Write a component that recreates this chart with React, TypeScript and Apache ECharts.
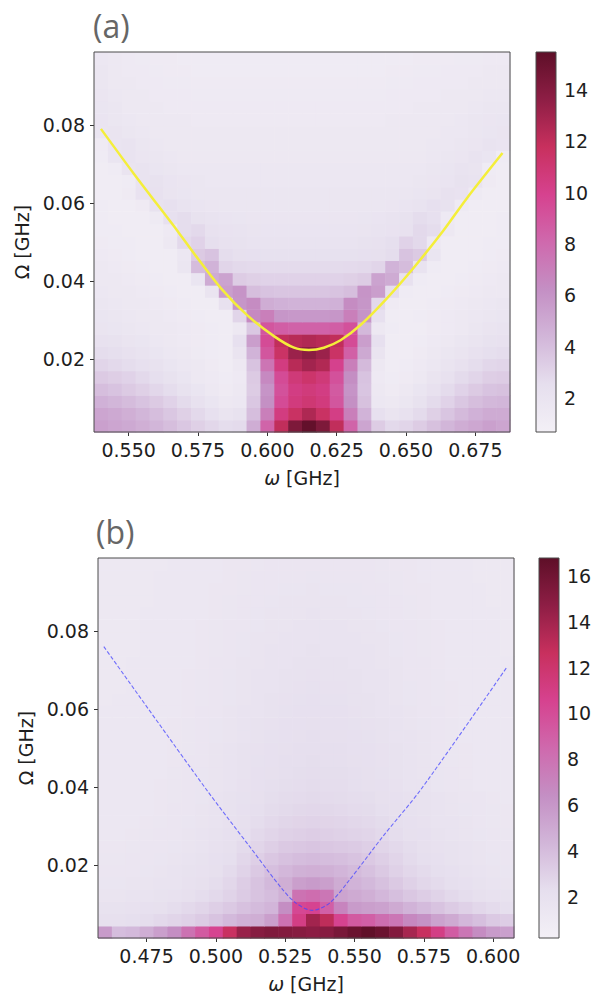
import React, { useEffect, useRef } from 'react';
import * as echarts from 'echarts';

// ---------- data ----------
const omegaA = [0.540, 0.545, 0.550, 0.555, 0.560, 0.565, 0.570, 0.575, 0.580, 0.585, 0.590, 0.595, 0.600, 0.605, 0.610, 0.615, 0.620, 0.625, 0.630, 0.635, 0.640, 0.645, 0.650, 0.655, 0.660, 0.665, 0.670, 0.675, 0.680, 0.685];
const omegaB = [0.460, 0.465, 0.470, 0.475, 0.480, 0.485, 0.490, 0.495, 0.500, 0.505, 0.510, 0.515, 0.520, 0.525, 0.530, 0.535, 0.540, 0.545, 0.550, 0.555, 0.560, 0.565, 0.570, 0.575, 0.580, 0.585, 0.590, 0.595, 0.600, 0.605];
const bigOmega = [0.0030, 0.0061, 0.0093, 0.0124, 0.0155, 0.0187, 0.0218, 0.0249, 0.0281, 0.0312, 0.0344, 0.0375, 0.0406, 0.0438, 0.0469, 0.0500, 0.0532, 0.0563, 0.0595, 0.0626, 0.0657, 0.0689, 0.0720, 0.0751, 0.0783, 0.0814, 0.0846, 0.0877, 0.0908, 0.0940, 0.0971];

// rows from lowest Omega (index 0) to highest
const zA = [
  [5.4,5.2,5.0,4.7,4.4,4.0,3.6,3.2,2.9,2.6,2.7,4.8,8.3,12.0,14.3,15.3,14.3,12.0,8.3,5.2,3.4,2.8,3.0,3.4,3.9,4.4,4.8,5.1,5.4,5.2],
  [5.2,5.0,4.7,4.4,4.0,3.6,3.2,2.8,2.4,2.0,2.2,4.0,7.0,10.5,11.6,12.6,11.6,10.3,7.0,4.5,2.4,2.0,2.3,2.7,3.2,3.7,4.2,4.6,4.9,4.9],
  [4.6,4.4,4.1,3.8,3.5,3.1,2.7,2.3,1.9,1.5,1.7,3.6,6.2,9.5,10.6,11.0,10.6,9.0,6.2,3.9,1.7,1.5,1.8,2.2,2.7,3.1,3.6,4.0,4.3,4.4],
  [4.0,3.8,3.5,3.2,2.9,2.6,2.2,1.9,1.6,1.3,1.5,3.4,6.0,9.2,10.4,10.7,10.4,8.8,6.0,3.7,1.5,1.3,1.5,1.9,2.3,2.7,3.1,3.5,3.8,3.9],
  [3.5,3.3,3.1,2.8,2.5,2.2,1.9,1.6,1.4,1.2,1.4,3.5,6.5,9.5,10.8,11.3,10.8,9.2,6.3,3.8,1.4,1.2,1.3,1.6,2.0,2.3,2.7,3.0,3.3,3.4],
  [3.0,2.8,2.6,2.4,2.2,1.9,1.7,1.5,1.3,1.15,1.5,3.8,7.5,10.5,12.3,13.0,12.5,10.0,7.0,4.2,1.5,1.15,1.2,1.4,1.7,2.0,2.3,2.6,2.9,3.0],
  [2.6,2.5,2.3,2.1,1.9,1.7,1.5,1.35,1.2,1.1,2.0,4.5,9.0,11.5,13.2,13.8,13.2,11.5,8.5,5.0,2.0,1.1,1.15,1.3,1.5,1.8,2.0,2.3,2.5,2.6],
  [2.3,2.2,2.0,1.9,1.7,1.55,1.4,1.3,1.2,1.1,2.4,5.5,9.5,12.0,12.3,12.5,12.3,12.0,9.5,5.5,2.4,1.15,1.1,1.2,1.4,1.6,1.8,2.0,2.2,2.3],
  [2.0,1.9,1.8,1.7,1.6,1.5,1.4,1.3,1.2,1.1,1.5,3.6,9.0,8.6,8.4,8.4,8.4,8.6,9.2,4.3,1.6,1.2,1.1,1.15,1.3,1.45,1.6,1.8,2.0,2.1],
  [1.9,1.8,1.7,1.6,1.5,1.4,1.3,1.2,1.15,1.1,3.0,6.5,7.0,5.9,5.8,5.8,5.8,5.9,7.0,6.0,2.4,1.1,1.15,1.2,1.3,1.4,1.5,1.65,1.8,1.9],
  [1.8,1.7,1.6,1.5,1.4,1.3,1.2,1.15,1.1,2.3,5.9,6.4,4.8,4.6,4.5,4.5,4.5,4.6,6.4,5.9,2.8,1.3,1.1,1.15,1.2,1.3,1.4,1.5,1.65,1.8],
  [1.7,1.6,1.5,1.4,1.3,1.2,1.15,1.1,2.0,5.5,6.0,4.0,3.8,3.7,3.7,3.7,3.7,3.8,4.0,6.0,5.5,2.6,1.2,1.1,1.15,1.2,1.3,1.4,1.5,1.6],
  [1.6,1.5,1.4,1.3,1.2,1.15,1.1,1.9,4.9,5.3,3.4,3.2,3.1,3.1,3.1,3.1,3.1,3.1,3.2,3.4,5.3,4.9,2.3,1.2,1.1,1.15,1.2,1.3,1.4,1.5],
  [1.5,1.4,1.3,1.2,1.15,1.1,1.8,4.1,4.5,3.0,2.8,2.75,2.7,2.7,2.7,2.7,2.7,2.7,2.75,2.8,3.0,4.5,4.1,2.1,1.2,1.1,1.15,1.2,1.3,1.4],
  [1.4,1.3,1.2,1.15,1.1,1.1,1.7,3.5,3.8,2.6,2.45,2.4,2.35,2.35,2.35,2.35,2.35,2.35,2.35,2.4,2.45,2.6,3.8,3.5,1.9,1.15,1.1,1.15,1.2,1.3],
  [1.3,1.25,1.2,1.15,1.1,1.5,2.8,3.1,2.5,2.3,2.2,2.1,2.1,2.1,2.1,2.1,2.1,2.1,2.1,2.2,2.3,2.5,3.1,2.8,1.6,1.15,1.1,1.15,1.2,1.25],
  [1.25,1.2,1.15,1.1,1.1,1.4,2.6,2.8,2.3,2.15,2.05,2.0,1.95,1.95,1.95,1.95,1.95,1.95,1.95,2.0,2.05,2.15,2.3,2.8,2.6,1.5,1.1,1.1,1.15,1.2],
  [1.2,1.15,1.1,1.1,1.35,2.4,2.6,2.2,2.05,1.95,1.9,1.85,1.85,1.85,1.85,1.85,1.85,1.85,1.85,1.9,1.95,2.05,2.2,2.6,2.4,1.4,1.1,1.1,1.15,1.2],
  [1.2,1.15,1.1,1.3,2.25,2.4,2.1,1.95,1.85,1.8,1.8,1.8,1.8,1.8,1.8,1.8,1.8,1.8,1.8,1.8,1.8,1.85,1.95,2.1,2.4,2.25,1.35,1.1,1.1,1.15],
  [1.15,1.1,1.3,2.15,2.3,2.0,1.9,1.8,1.75,1.75,1.75,1.75,1.75,1.75,1.75,1.75,1.75,1.75,1.75,1.75,1.75,1.75,1.8,1.9,2.0,2.3,2.15,1.35,1.1,1.1],
  [1.1,1.1,1.25,2.05,2.2,1.95,1.85,1.75,1.7,1.7,1.7,1.7,1.7,1.7,1.7,1.7,1.7,1.7,1.7,1.7,1.7,1.7,1.7,1.75,1.85,1.95,2.2,2.05,1.3,1.1],
  [1.1,1.25,2.0,2.1,1.9,1.8,1.7,1.65,1.65,1.65,1.65,1.65,1.65,1.65,1.65,1.65,1.65,1.65,1.65,1.65,1.65,1.65,1.65,1.7,1.8,1.9,2.1,2.0,1.25,1.1],
  [1.2,1.9,2.05,1.85,1.75,1.65,1.6,1.6,1.6,1.6,1.6,1.6,1.6,1.6,1.6,1.6,1.6,1.6,1.6,1.6,1.6,1.6,1.6,1.6,1.65,1.75,1.85,2.05,1.9,1.2],
  [1.3,1.95,2.05,1.75,1.65,1.6,1.55,1.55,1.55,1.55,1.55,1.55,1.55,1.55,1.55,1.55,1.55,1.55,1.55,1.55,1.55,1.55,1.6,1.6,1.65,1.7,1.75,1.85,2.05,1.95],
  [1.9,2.0,1.75,1.65,1.6,1.55,1.5,1.5,1.5,1.5,1.5,1.5,1.5,1.5,1.5,1.5,1.5,1.5,1.5,1.5,1.5,1.5,1.55,1.55,1.6,1.65,1.7,1.8,1.9,2.0],
  [1.95,1.8,1.65,1.6,1.55,1.5,1.5,1.45,1.45,1.45,1.45,1.45,1.45,1.45,1.45,1.45,1.45,1.45,1.45,1.45,1.45,1.5,1.5,1.55,1.55,1.6,1.65,1.75,1.85,1.9],
  [1.9,1.75,1.6,1.55,1.5,1.45,1.45,1.4,1.4,1.4,1.4,1.4,1.4,1.4,1.4,1.4,1.4,1.4,1.4,1.4,1.4,1.45,1.45,1.5,1.5,1.55,1.6,1.65,1.75,1.8],
  [1.85,1.65,1.55,1.5,1.45,1.4,1.4,1.35,1.35,1.35,1.35,1.35,1.35,1.35,1.35,1.35,1.35,1.35,1.35,1.35,1.35,1.4,1.4,1.45,1.45,1.5,1.55,1.6,1.65,1.7],
  [1.8,1.6,1.5,1.45,1.4,1.35,1.35,1.3,1.3,1.3,1.3,1.3,1.3,1.3,1.3,1.3,1.3,1.3,1.3,1.3,1.3,1.35,1.35,1.4,1.4,1.45,1.45,1.5,1.55,1.6],
  [1.75,1.55,1.45,1.4,1.35,1.3,1.3,1.25,1.25,1.25,1.25,1.25,1.25,1.25,1.25,1.25,1.25,1.25,1.25,1.25,1.25,1.3,1.3,1.35,1.35,1.4,1.4,1.45,1.5,1.55],
  [1.7,1.5,1.4,1.35,1.3,1.3,1.25,1.2,1.2,1.2,1.2,1.2,1.2,1.2,1.2,1.2,1.2,1.2,1.2,1.2,1.2,1.25,1.25,1.3,1.3,1.3,1.35,1.35,1.4,1.45],
];

const zB = [
  [5.8,4.0,4.2,4.8,5.6,6.5,8.0,9.3,10.5,12.5,14.3,15.0,15.3,15.2,15.0,14.8,15.0,15.6,16.2,16.7,16.2,15.2,13.8,12.6,11.0,9.2,7.8,6.6,5.8,5.5],
  [2.2,2.2,2.3,2.4,2.6,2.8,3.0,3.3,3.7,4.2,4.6,4.8,5.6,8.0,11.0,14.0,13.0,10.5,9.3,9.0,8.2,7.8,6.8,6.3,5.4,5.0,4.3,3.9,3.4,3.2],
  [1.9,1.9,2.0,2.1,2.2,2.4,2.6,2.8,3.1,3.4,3.8,4.1,4.4,6.5,10.3,10.5,9.0,7.0,5.8,5.6,5.4,5.0,4.5,4.1,3.7,3.3,3.0,2.7,2.5,2.3],
  [1.7,1.7,1.75,1.8,1.9,2.0,2.2,2.4,2.6,2.9,3.3,3.7,4.0,4.6,8.0,8.3,7.8,5.3,5.0,4.7,4.3,3.9,3.5,3.2,2.9,2.6,2.4,2.2,2.0,1.9],
  [1.6,1.6,1.65,1.7,1.75,1.85,2.0,2.2,2.4,2.7,3.2,3.7,4.2,4.8,5.6,5.8,5.6,4.9,4.5,4.2,3.8,3.4,3.0,2.7,2.5,2.3,2.1,1.9,1.8,1.7],
  [1.5,1.5,1.55,1.6,1.65,1.75,1.9,2.0,2.2,2.5,2.9,3.4,3.9,4.3,4.6,4.7,4.6,4.4,4.1,3.8,3.4,3.0,2.7,2.5,2.3,2.1,1.9,1.8,1.7,1.6],
  [1.45,1.45,1.5,1.55,1.6,1.7,1.8,1.9,2.1,2.3,2.7,3.1,3.5,3.8,4.0,4.1,4.0,3.9,3.7,3.4,3.1,2.8,2.5,2.3,2.1,1.95,1.8,1.7,1.6,1.55],
  [1.4,1.4,1.45,1.5,1.55,1.6,1.7,1.8,2.0,2.2,2.5,2.8,3.1,3.4,3.5,3.6,3.5,3.4,3.3,3.1,2.8,2.6,2.4,2.2,2.0,1.9,1.75,1.65,1.55,1.5],
  [1.35,1.35,1.4,1.45,1.5,1.55,1.65,1.75,1.9,2.1,2.3,2.6,2.8,3.0,3.1,3.2,3.1,3.0,2.9,2.8,2.6,2.4,2.2,2.1,1.9,1.8,1.7,1.6,1.5,1.45],
  [1.3,1.3,1.35,1.4,1.45,1.5,1.6,1.7,1.85,2.0,2.2,2.4,2.6,2.75,2.85,2.9,2.85,2.8,2.7,2.6,2.45,2.3,2.1,2.0,1.85,1.75,1.65,1.55,1.45,1.4],
  [1.3,1.3,1.3,1.35,1.4,1.5,1.55,1.65,1.8,1.95,2.1,2.3,2.45,2.55,2.65,2.7,2.65,2.6,2.5,2.45,2.3,2.2,2.05,1.95,1.8,1.7,1.6,1.5,1.45,1.4],
  [1.25,1.25,1.3,1.35,1.4,1.45,1.5,1.6,1.75,1.9,2.05,2.2,2.35,2.45,2.5,2.55,2.5,2.45,2.4,2.35,2.2,2.1,2.0,1.9,1.75,1.65,1.55,1.5,1.4,1.35],
  [1.25,1.25,1.3,1.35,1.4,1.45,1.5,1.6,1.7,1.85,2.0,2.15,2.25,2.35,2.4,2.45,2.4,2.4,2.3,2.2,2.1,2.0,1.85,1.75,1.6,1.5,1.45,1.35,1.3,1.3],
  [1.25,1.25,1.3,1.3,1.35,1.45,1.5,1.6,1.7,1.8,1.95,2.1,2.2,2.3,2.35,2.4,2.35,2.35,2.25,2.2,2.05,1.95,1.85,1.7,1.6,1.5,1.4,1.35,1.3,1.3],
  [1.25,1.25,1.3,1.3,1.35,1.4,1.5,1.55,1.65,1.8,1.9,2.05,2.15,2.25,2.3,2.35,2.3,2.3,2.2,2.15,2.0,1.9,1.8,1.7,1.55,1.45,1.4,1.35,1.3,1.3],
  [1.25,1.25,1.3,1.3,1.35,1.4,1.45,1.55,1.65,1.75,1.9,2.0,2.1,2.2,2.25,2.3,2.25,2.25,2.15,2.1,2.0,1.9,1.75,1.65,1.55,1.45,1.4,1.35,1.3,1.3],
  [1.25,1.25,1.25,1.3,1.35,1.4,1.45,1.5,1.6,1.7,1.85,1.95,2.05,2.15,2.2,2.25,2.2,2.2,2.1,2.05,1.95,1.85,1.75,1.65,1.55,1.45,1.35,1.3,1.3,1.25],
  [1.25,1.25,1.25,1.3,1.35,1.4,1.45,1.5,1.6,1.7,1.8,1.9,2.0,2.1,2.15,2.2,2.15,2.15,2.05,2.0,1.9,1.8,1.7,1.6,1.5,1.45,1.35,1.3,1.3,1.25],
  [1.25,1.25,1.25,1.3,1.3,1.35,1.4,1.5,1.55,1.65,1.75,1.85,1.95,2.05,2.1,2.15,2.1,2.1,2.0,1.95,1.85,1.75,1.65,1.55,1.5,1.4,1.35,1.3,1.3,1.25],
  [1.2,1.25,1.25,1.3,1.3,1.35,1.4,1.45,1.55,1.6,1.7,1.8,1.9,2.0,2.05,2.1,2.05,2.05,1.95,1.9,1.8,1.7,1.6,1.55,1.45,1.4,1.35,1.3,1.25,1.25],
  [1.2,1.2,1.25,1.25,1.3,1.35,1.4,1.45,1.5,1.6,1.7,1.8,1.85,1.95,2.0,2.05,2.0,2.0,1.9,1.85,1.75,1.7,1.6,1.5,1.45,1.4,1.3,1.3,1.25,1.25],
  [1.2,1.2,1.25,1.25,1.3,1.35,1.4,1.45,1.5,1.6,1.65,1.75,1.85,1.9,1.95,2.0,1.95,1.95,1.9,1.8,1.75,1.65,1.55,1.5,1.45,1.35,1.3,1.3,1.25,1.25],
  [1.2,1.2,1.25,1.25,1.3,1.3,1.35,1.4,1.5,1.55,1.65,1.7,1.8,1.85,1.9,1.95,1.9,1.9,1.85,1.8,1.7,1.65,1.55,1.5,1.4,1.35,1.3,1.3,1.25,1.25],
  [1.2,1.2,1.2,1.25,1.3,1.3,1.35,1.4,1.45,1.55,1.6,1.7,1.75,1.8,1.85,1.9,1.85,1.85,1.8,1.75,1.7,1.6,1.55,1.45,1.4,1.35,1.3,1.25,1.25,1.2],
  [1.2,1.2,1.2,1.25,1.25,1.3,1.35,1.4,1.45,1.5,1.6,1.65,1.7,1.75,1.8,1.85,1.8,1.8,1.75,1.7,1.65,1.6,1.5,1.45,1.4,1.35,1.3,1.25,1.25,1.2],
  [1.2,1.2,1.2,1.25,1.25,1.3,1.35,1.4,1.45,1.5,1.55,1.6,1.7,1.7,1.75,1.8,1.75,1.75,1.7,1.65,1.6,1.55,1.5,1.45,1.4,1.3,1.3,1.25,1.25,1.2],
  [1.2,1.2,1.2,1.25,1.25,1.3,1.3,1.35,1.4,1.45,1.5,1.6,1.65,1.7,1.7,1.75,1.7,1.7,1.65,1.6,1.55,1.5,1.45,1.4,1.35,1.3,1.3,1.25,1.25,1.2],
  [1.2,1.2,1.2,1.2,1.25,1.3,1.3,1.35,1.4,1.45,1.5,1.55,1.6,1.65,1.65,1.7,1.65,1.65,1.6,1.6,1.55,1.5,1.45,1.4,1.35,1.3,1.25,1.25,1.2,1.2],
  [1.2,1.2,1.2,1.2,1.25,1.25,1.3,1.35,1.4,1.4,1.45,1.5,1.55,1.6,1.6,1.65,1.6,1.6,1.6,1.55,1.5,1.45,1.4,1.4,1.35,1.3,1.25,1.25,1.2,1.2],
  [1.2,1.2,1.2,1.2,1.25,1.25,1.3,1.3,1.35,1.4,1.45,1.5,1.5,1.55,1.55,1.6,1.55,1.55,1.55,1.5,1.45,1.45,1.4,1.35,1.3,1.3,1.25,1.2,1.2,1.2],
  [1.2,1.2,1.2,1.2,1.2,1.25,1.3,1.3,1.35,1.4,1.4,1.45,1.5,1.5,1.55,1.55,1.55,1.5,1.5,1.5,1.45,1.4,1.4,1.35,1.3,1.3,1.25,1.2,1.2,1.2],
];

// resonance curves
const curveAx = [0.5400, 0.5522, 0.5678, 0.5737, 0.5833, 0.5929, 0.6025, 0.6096, 0.6150, 0.6204, 0.6264, 0.6336, 0.6432, 0.6527, 0.6635, 0.6719, 0.6848];
const curveAy = [0.0790, 0.0672, 0.0527, 0.0470, 0.0382, 0.0312, 0.0259, 0.0230, 0.0224, 0.0230, 0.0249, 0.0288, 0.0357, 0.0434, 0.0530, 0.0612, 0.0728];
const curveBx = [0.4596, 0.4965, 0.5121, 0.5241, 0.5290, 0.5347, 0.5409, 0.5482, 0.5602, 0.5740, 0.6047];
const curveBy = [0.0760, 0.0395, 0.0249, 0.0138, 0.0103, 0.0085, 0.0103, 0.0163, 0.0274, 0.0395, 0.0705];

// ticks and colour ranges
const xTicksA = [0.55, 0.575, 0.6, 0.625, 0.65, 0.675];
const xTicksB = [0.475, 0.5, 0.525, 0.55, 0.575, 0.6];
const yTicks = [0.02, 0.04, 0.06, 0.08];
const cbarTicksA = [2, 4, 6, 8, 10, 12, 14];
const cbarTicksB = [2, 4, 6, 8, 10, 12, 14, 16];
const cbarRangeA = [0.68, 15.48];
const cbarRangeB = [0.21, 16.78];
// PuRd-like colour ramp as it appears in the reference (slightly muted)
const ramp = ['#f3f0f6', '#e6dfee', '#d2b6d9', '#c48fc4', '#cf69ad', '#d6428f', '#c8305e', '#8e1e45', '#5e0f28'];

const FONT = 'DejaVu Sans';
const LABEL_COLOR = '#1e1e1e';

function heatData(xs: number[], ys: number[], z: number[][]) {
  const out: number[][] = [];
  for (let r = 0; r < ys.length; r++) {
    for (let c = 0; c < xs.length; c++) {
      out.push([xs[c], ys[r], z[r][c]]);
    }
  }
  return out;
}

function heatRender(dx: number, dy: number) {
  return (params: any, api: any) => {
    const x = api.value(0);
    const y = api.value(1);
    const p1 = api.coord([x - dx / 2, y + dy / 2]);
    const p2 = api.coord([x + dx / 2, y - dy / 2]);
    return {
      type: 'rect',
      shape: { x: p1[0], y: p1[1], width: p2[0] - p1[0] + 0.6, height: p2[1] - p1[1] + 0.6 },
      style: { fill: api.visual('color') },
    };
  };
}

const frameRender = (params: any) => {
  const cs = params.coordSys;
  return {
    type: 'rect',
    shape: { x: cs.x, y: cs.y, width: cs.width, height: cs.height },
    style: { fill: 'none', stroke: '#4a4a4a', lineWidth: 1 },
  };
};

const cbarRender = (params: any) => {
  const cs = params.coordSys;
  return {
    type: 'rect',
    shape: { x: cs.x, y: cs.y, width: cs.width, height: cs.height },
    style: {
      fill: new echarts.graphic.LinearGradient(0, 1, 0, 0, ramp.map((c, i) => ({ offset: i / (ramp.length - 1), color: c }))),
      stroke: '#4a4a4a',
      lineWidth: 1,
    },
  };
};

function mainXAxis(grid: number, min: number, max: number, ticks: number[]) {
  return {
    type: 'value', gridIndex: grid, min, max,
    axisLine: { show: false },
    splitLine: { show: false },
    axisTick: { show: true, length: 4, lineStyle: { color: '#333', width: 1 }, customValues: ticks },
    axisLabel: { customValues: ticks, formatter: (v: number) => v.toFixed(3), fontSize: 19, fontFamily: FONT, color: LABEL_COLOR, margin: 8 },
    name: '{i|ω} [GHz]',
    nameLocation: 'middle',
    nameGap: 36,
    nameTextStyle: { fontSize: 19, fontFamily: FONT, color: LABEL_COLOR, rich: { i: { fontStyle: 'italic', fontSize: 19, fontFamily: FONT, color: LABEL_COLOR } } },
  };
}

function mainYAxis(grid: number, min: number, max: number) {
  return {
    type: 'value', gridIndex: grid, min, max,
    axisLine: { show: false },
    splitLine: { show: false },
    axisTick: { show: true, length: 4, lineStyle: { color: '#333', width: 1 }, customValues: yTicks },
    axisLabel: { customValues: yTicks, formatter: (v: number) => v.toFixed(2), fontSize: 19, fontFamily: FONT, color: LABEL_COLOR, margin: 9 },
    name: 'Ω [GHz]',
    nameLocation: 'middle',
    nameGap: 60,
    nameRotate: 90,
    nameTextStyle: { fontSize: 19, fontFamily: FONT, color: LABEL_COLOR },
  };
}

function cbarYAxis(grid: number, range: number[], ticks: number[]) {
  return {
    type: 'value', gridIndex: grid, position: 'right', min: range[0], max: range[1],
    axisLine: { show: false },
    splitLine: { show: false },
    axisTick: { show: true, length: 4, lineStyle: { color: '#333', width: 1 }, customValues: ticks },
    axisLabel: { customValues: ticks, formatter: (v: number) => String(Math.round(v)), fontSize: 19, fontFamily: FONT, color: LABEL_COLOR, margin: 8 },
  };
}

export default function App() {
  const ref = useRef<HTMLDivElement>(null);
  useEffect(() => {
    if (!ref.current) return;
    const chart = echarts.init(ref.current, undefined, { renderer: 'svg' });
    const dxA = omegaA[1] - omegaA[0];
    const dxB = omegaB[1] - omegaB[0];
    const dy = (bigOmega[bigOmega.length - 1] - bigOmega[0]) / (bigOmega.length - 1);
    const yMin = bigOmega[0] - dy / 2;
    const yMax = bigOmega[bigOmega.length - 1] + dy / 2;
    const xMinA = omegaA[0] - dxA / 2, xMaxA = omegaA[omegaA.length - 1] + dxA / 2;
    const xMinB = omegaB[0] - dxB / 2, xMaxB = omegaB[omegaB.length - 1] + dxB / 2;

    const option: any = {
      animation: false,
      backgroundColor: '#ffffff',
      grid: [
        { left: 94, top: 52, width: 416, height: 380 },
        { left: 536, top: 52, width: 20, height: 380 },
        { left: 98, top: 558, width: 416, height: 380 },
        { left: 539, top: 558, width: 20, height: 380 },
      ],
      xAxis: [
        mainXAxis(0, xMinA, xMaxA, xTicksA),
        { type: 'value', gridIndex: 1, min: 0, max: 1, show: false },
        mainXAxis(2, xMinB, xMaxB, xTicksB),
        { type: 'value', gridIndex: 3, min: 0, max: 1, show: false },
      ],
      yAxis: [
        mainYAxis(0, yMin, yMax),
        cbarYAxis(1, cbarRangeA, cbarTicksA),
        mainYAxis(2, yMin, yMax),
        cbarYAxis(3, cbarRangeB, cbarTicksB),
      ],
      visualMap: [
        { type: 'continuous', show: false, min: cbarRangeA[0], max: cbarRangeA[1], dimension: 2, seriesIndex: 0, inRange: { color: ramp } },
        { type: 'continuous', show: false, min: cbarRangeB[0], max: cbarRangeB[1], dimension: 2, seriesIndex: 4, inRange: { color: ramp } },
      ],
      graphic: [
        { type: 'text', left: 93, top: 9, style: { text: '(a)', fontSize: 32, fontFamily: 'Open Sans', fill: '#666666' } },
        { type: 'text', left: 96, top: 515, style: { text: '(b)', fontSize: 32, fontFamily: 'Open Sans', fill: '#666666' } },
      ],
      series: [
        // panel (a)
        { type: 'custom', xAxisIndex: 0, yAxisIndex: 0, data: heatData(omegaA, bigOmega, zA), renderItem: heatRender(dxA, dy), silent: true, z: 1 },
        { type: 'line', xAxisIndex: 0, yAxisIndex: 0, data: curveAx.map((x, i) => [x, curveAy[i]]), smooth: 0.3, showSymbol: false, lineStyle: { color: '#f4ee3a', width: 2.5 }, z: 3, silent: true },
        { type: 'custom', xAxisIndex: 0, yAxisIndex: 0, data: [[omegaA[0], bigOmega[0]]], renderItem: frameRender, silent: true, z: 5 },
        { type: 'custom', xAxisIndex: 1, yAxisIndex: 1, data: [[0.5, cbarRangeA[0] + 1]], renderItem: cbarRender, silent: true, z: 2 },
        // panel (b)
        { type: 'custom', xAxisIndex: 2, yAxisIndex: 2, data: heatData(omegaB, bigOmega, zB), renderItem: heatRender(dxB, dy), silent: true, z: 1 },
        { type: 'line', xAxisIndex: 2, yAxisIndex: 2, data: curveBx.map((x, i) => [x, curveBy[i]]), smooth: 0.3, showSymbol: false, lineStyle: { color: 'rgba(70,70,255,0.75)', width: 1.1, type: [4, 2] }, z: 3, silent: true },
        { type: 'custom', xAxisIndex: 2, yAxisIndex: 2, data: [[omegaB[0], bigOmega[0]]], renderItem: frameRender, silent: true, z: 5 },
        { type: 'custom', xAxisIndex: 3, yAxisIndex: 3, data: [[0.5, cbarRangeB[0] + 1]], renderItem: cbarRender, silent: true, z: 2 },
      ],
    };
    chart.setOption(option);
    return () => chart.dispose();
  }, []);
  return <div ref={ref} style={{ position: 'absolute', left: 0, top: 0, width: 600, height: 994 }} />;
}
